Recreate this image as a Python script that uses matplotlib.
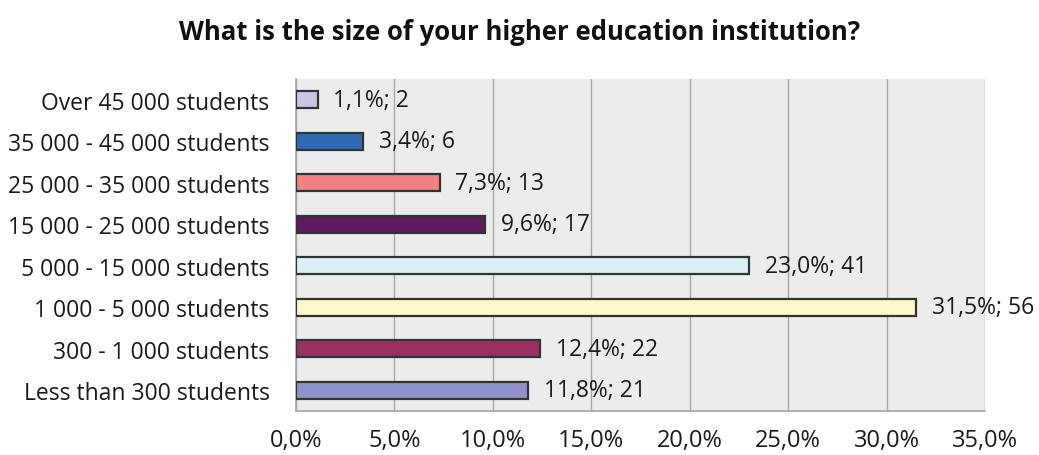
import matplotlib
matplotlib.use("Agg")
import matplotlib.pyplot as plt
from matplotlib.ticker import FuncFormatter

# data (top to bottom as shown)
categories = ["Over 45 000 students", "35 000 - 45 000 students", "25 000 - 35 000 students",
              "15 000 - 25 000 students", "5 000 - 15 000 students", "1 000 - 5 000 students",
              "300 - 1 000 students", "Less than 300 students"]
percent = [1.1, 3.4, 7.3, 9.6, 23.0, 31.5, 12.4, 11.8]
counts = [2, 6, 13, 17, 41, 56, 22, 21]
colors = ["#cdc3e3", "#2f6bb5", "#f38181", "#5d1a5f", "#daf0f4", "#fbf8c9", "#9a2f62", "#9191c9"]

plt.rcParams['font.family'] = ['Open Sans', 'DejaVu Sans']

fig = plt.figure(figsize=(10.39, 4.56), dpi=100)
ax = fig.add_axes([296 / 1039, (456 - 412) / 456, (985 - 296) / 1039, (412 - 80) / 456])

y = list(range(len(categories)))[::-1]
ax.barh(y, percent, height=0.42, color=colors, edgecolor="#333333", linewidth=1.6, zorder=3)
for yi, p, c in zip(y, percent, counts):
    ax.text(p + 0.8, yi, f"{p:.1f}%; {c}".replace(".", ","), va="center", ha="left",
            fontsize=16.5, color="#1a1a1a", zorder=4)

ax.set_xlim(0, 35)
ax.set_ylim(-0.5, len(categories) - 0.5)
ax.set_xticks(range(0, 36, 5))
ax.xaxis.set_major_formatter(FuncFormatter(lambda v, _: f"{v:.1f}%".replace(".", ",")))
ax.set_yticks(y)
ax.set_yticklabels(categories)
ax.tick_params(axis="both", length=0, colors="#1a1a1a")
ax.tick_params(axis="y", labelsize=16.5, pad=19)
ax.tick_params(axis="x", labelsize=17, pad=12)
ax.set_facecolor("#ececec")
ax.grid(axis="x", color="#a6a6a6", linewidth=1.0, zorder=0)
for s in ["top", "right"]:
    ax.spines[s].set_visible(False)
for s in ["left", "bottom"]:
    ax.spines[s].set_color("#a6a6a6")
    ax.spines[s].set_linewidth(1.2)

fig.text(0.5, 1 - 33 / 456, "What is the size of your higher education institution?",
         ha="center", va="center", fontsize=18.5, fontweight="bold", color="#111111")

fig.savefig("out.png", dpi=100)
